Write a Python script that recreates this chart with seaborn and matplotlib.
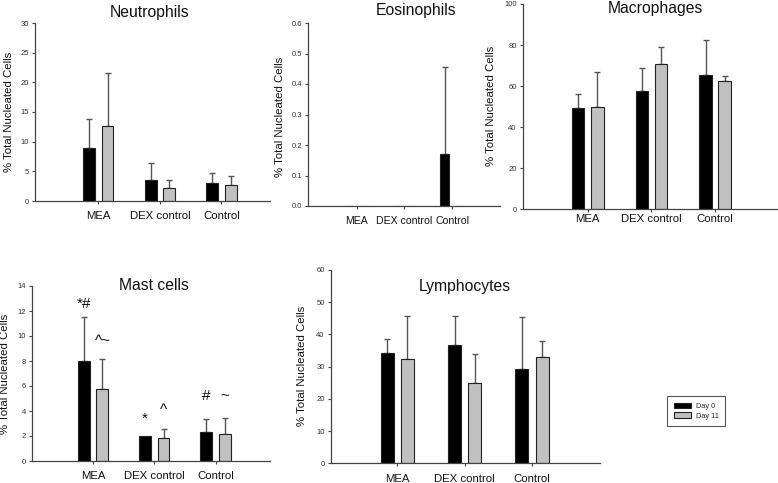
import numpy as np
import pandas as pd
import matplotlib
matplotlib.use("Agg")
import matplotlib.pyplot as plt
from matplotlib.patches import Patch
import seaborn as sns

categories = ["MEA", "DEX control", "Control"]
days = ["Day 0", "Day 11"]

neut_day0 = [9.0, 3.5, 3.0]
neut_day0_sd = [4.8, 2.85, 1.75]
neut_day11 = [12.6, 2.15, 2.65]
neut_day11_sd = [8.9, 1.45, 1.6]

eos_day0 = [0.0, 0.0, 0.17]
eos_day0_sd = [np.nan, np.nan, 0.285]
eos_day11 = [0.0, 0.0, 0.0]
eos_day11_sd = [np.nan, np.nan, np.nan]

mac_day0 = [49.2, 57.6, 65.2]
mac_day0_sd = [7.1, 11.2, 17.1]
mac_day11 = [49.6, 70.9, 62.5]
mac_day11_sd = [17.3, 8.2, 2.2]

mast_day0 = [8.0, 2.0, 2.35]
mast_day0_sd = [3.5, np.nan, 1.05]
mast_day11 = [5.8, 1.85, 2.2]
mast_day11_sd = [2.4, 0.75, 1.25]

lym_day0 = [34.1, 36.8, 29.3]
lym_day0_sd = [4.5, 8.8, 16.0]
lym_day11 = [32.4, 24.8, 32.9]
lym_day11_sd = [13.3, 9.2, 5.0]

mast_marks_day0 = ["*#", "*", "#"]
mast_marks_day0_y = [12.6, 3.4, 5.2]
mast_marks_day11 = ["^~", "^", "~"]
mast_marks_day11_y = [9.6, 4.1, 5.2]

ylabel = "% Total Nucleated Cells"

sns.set_style("ticks")
plt.rcParams["font.family"] = ["Liberation Sans", "DejaVu Sans"]

W, H = 778, 483
fig = plt.figure(figsize=(W / 100, H / 100), dpi=100)
fig.patch.set_facecolor("white")


def px_axes(left, top, right, bottom):
    return fig.add_axes([left / W, 1 - bottom / H, (right - left) / W, (bottom - top) / H])


def panel(ax, d0, d0sd, d11, d11sd, ylim, yticks, yfmt, xlim, xpad, xsize=8.2):
    df = pd.DataFrame({
        "Group": categories * 2,
        "Day": [days[0]] * 3 + [days[1]] * 3,
        "Value": list(d0) + list(d11),
    })
    sns.barplot(data=df, x="Group", y="Value", hue="Day", order=categories,
                hue_order=days, palette={days[0]: "#000000", days[1]: "#c0c0c0"},
                errorbar=None, width=0.6, gap=0.36, edgecolor="#222222",
                linewidth=0.8, legend=False, ax=ax, zorder=2)
    for cont, sd in zip(ax.containers, [d0sd, d11sd]):
        for bar, s in zip(cont, sd):
            if np.isnan(s):
                continue
            x = bar.get_x() + bar.get_width() / 2
            y = bar.get_height()
            ax.errorbar([x], [y], yerr=[[0], [s]], fmt="none", ecolor="#555555",
                        elinewidth=1, capsize=2.3, capthick=1, zorder=1)
    ax.set_xlim(*xlim)
    ax.set_ylim(*ylim)
    ax.set_yticks(yticks)
    ax.set_yticklabels([yfmt.format(t) for t in yticks])
    ax.set_xlabel("")
    ax.set_ylabel("")
    for side in ["top", "right"]:
        ax.spines[side].set_visible(False)
    for side in ["left", "bottom"]:
        ax.spines[side].set_color("#444444")
        ax.spines[side].set_linewidth(0.9)
    ax.tick_params(axis="y", labelsize=5.5, length=2.5, width=0.8, color="#444444",
                   labelcolor="#333333", pad=2)
    ax.tick_params(axis="x", labelsize=xsize, length=2.5, width=0.8, color="#444444",
                   labelcolor="#111111", pad=xpad)
    ax.set_facecolor("white")


# Neutrophils
ax1 = px_axes(35, 23, 270, 201)
panel(ax1, neut_day0, neut_day0_sd, neut_day11, neut_day11_sd, (0, 30),
      [0, 5, 10, 15, 20, 25, 30], "{:g}", (-1.03, 2.79), 5)
# Eosinophils
ax2 = px_axes(308, 23, 500, 206)
panel(ax2, eos_day0, eos_day0_sd, eos_day11, eos_day11_sd, (0, 0.6),
      [0, 0.1, 0.2, 0.3, 0.4, 0.5, 0.6], "{:.1f}", (-1.03, 3.01), 5, xsize=7.6)
# Macrophages
ax3 = px_axes(523, 4, 778, 209.3)
panel(ax3, mac_day0, mac_day0_sd, mac_day11, mac_day11_sd, (0, 100),
      [0, 20, 40, 60, 80, 100], "{:g}", (-1.02, 2.99), 0.8)
# Mast cells
ax4 = px_axes(32, 286, 270, 461)
panel(ax4, mast_day0, mast_day0_sd, mast_day11, mast_day11_sd, (0, 14),
      [0, 2, 4, 6, 8, 10, 12, 14], "{:g}", (-1.0, 2.89), 5)
# Lymphocytes
ax5 = px_axes(331, 270, 600, 463.3)
panel(ax5, lym_day0, lym_day0_sd, lym_day11, lym_day11_sd, (0, 60),
      [0, 10, 20, 30, 40, 50, 60], "{:g}", (-0.985, 3.01), 5)

# significance marks on mast cells
for cont, marks, ys in zip(ax4.containers, [mast_marks_day0, mast_marks_day11],
                           [mast_marks_day0_y, mast_marks_day11_y]):
    for bar, m, y in zip(cont, marks, ys):
        x = bar.get_x() + bar.get_width() / 2
        ax4.text(x, y, m, ha="center", va="center", fontsize=11, color="#111111")

# titles
titles = [("Neutrophils", 150, 12), ("Eosinophils", 416, 11), ("Macrophages", 655, 8),
          ("Mast cells", 154, 285), ("Lymphocytes", 465, 287)]
for t, x, y in titles:
    fig.text(x / W, 1 - y / H, t, ha="center", va="center", fontsize=11.3, color="#111111")

# y labels
ylabs = [(9, 112), (280, 117), (491, 106), (5, 374), (302, 366)]
for x, y in ylabs:
    fig.text(x / W, 1 - y / H, ylabel, rotation=90, ha="center", va="center",
             fontsize=8.2, color="#111111")

handles = [Patch(facecolor="#000000", edgecolor="#222222", linewidth=0.8),
           Patch(facecolor="#c0c0c0", edgecolor="#222222", linewidth=0.8)]
leg = fig.legend(handles=handles, labels=days, loc="upper left",
                 bbox_to_anchor=(667 / W, 1 - 396 / H), fontsize=5.3, frameon=True,
                 fancybox=False, edgecolor="#555555", framealpha=1,
                 handlelength=2.4, handleheight=0.8, borderpad=0.9,
                 labelspacing=0.3, handletextpad=0.6, borderaxespad=0)
leg.get_frame().set_linewidth(0.8)

fig.savefig("out.png", dpi=100)
